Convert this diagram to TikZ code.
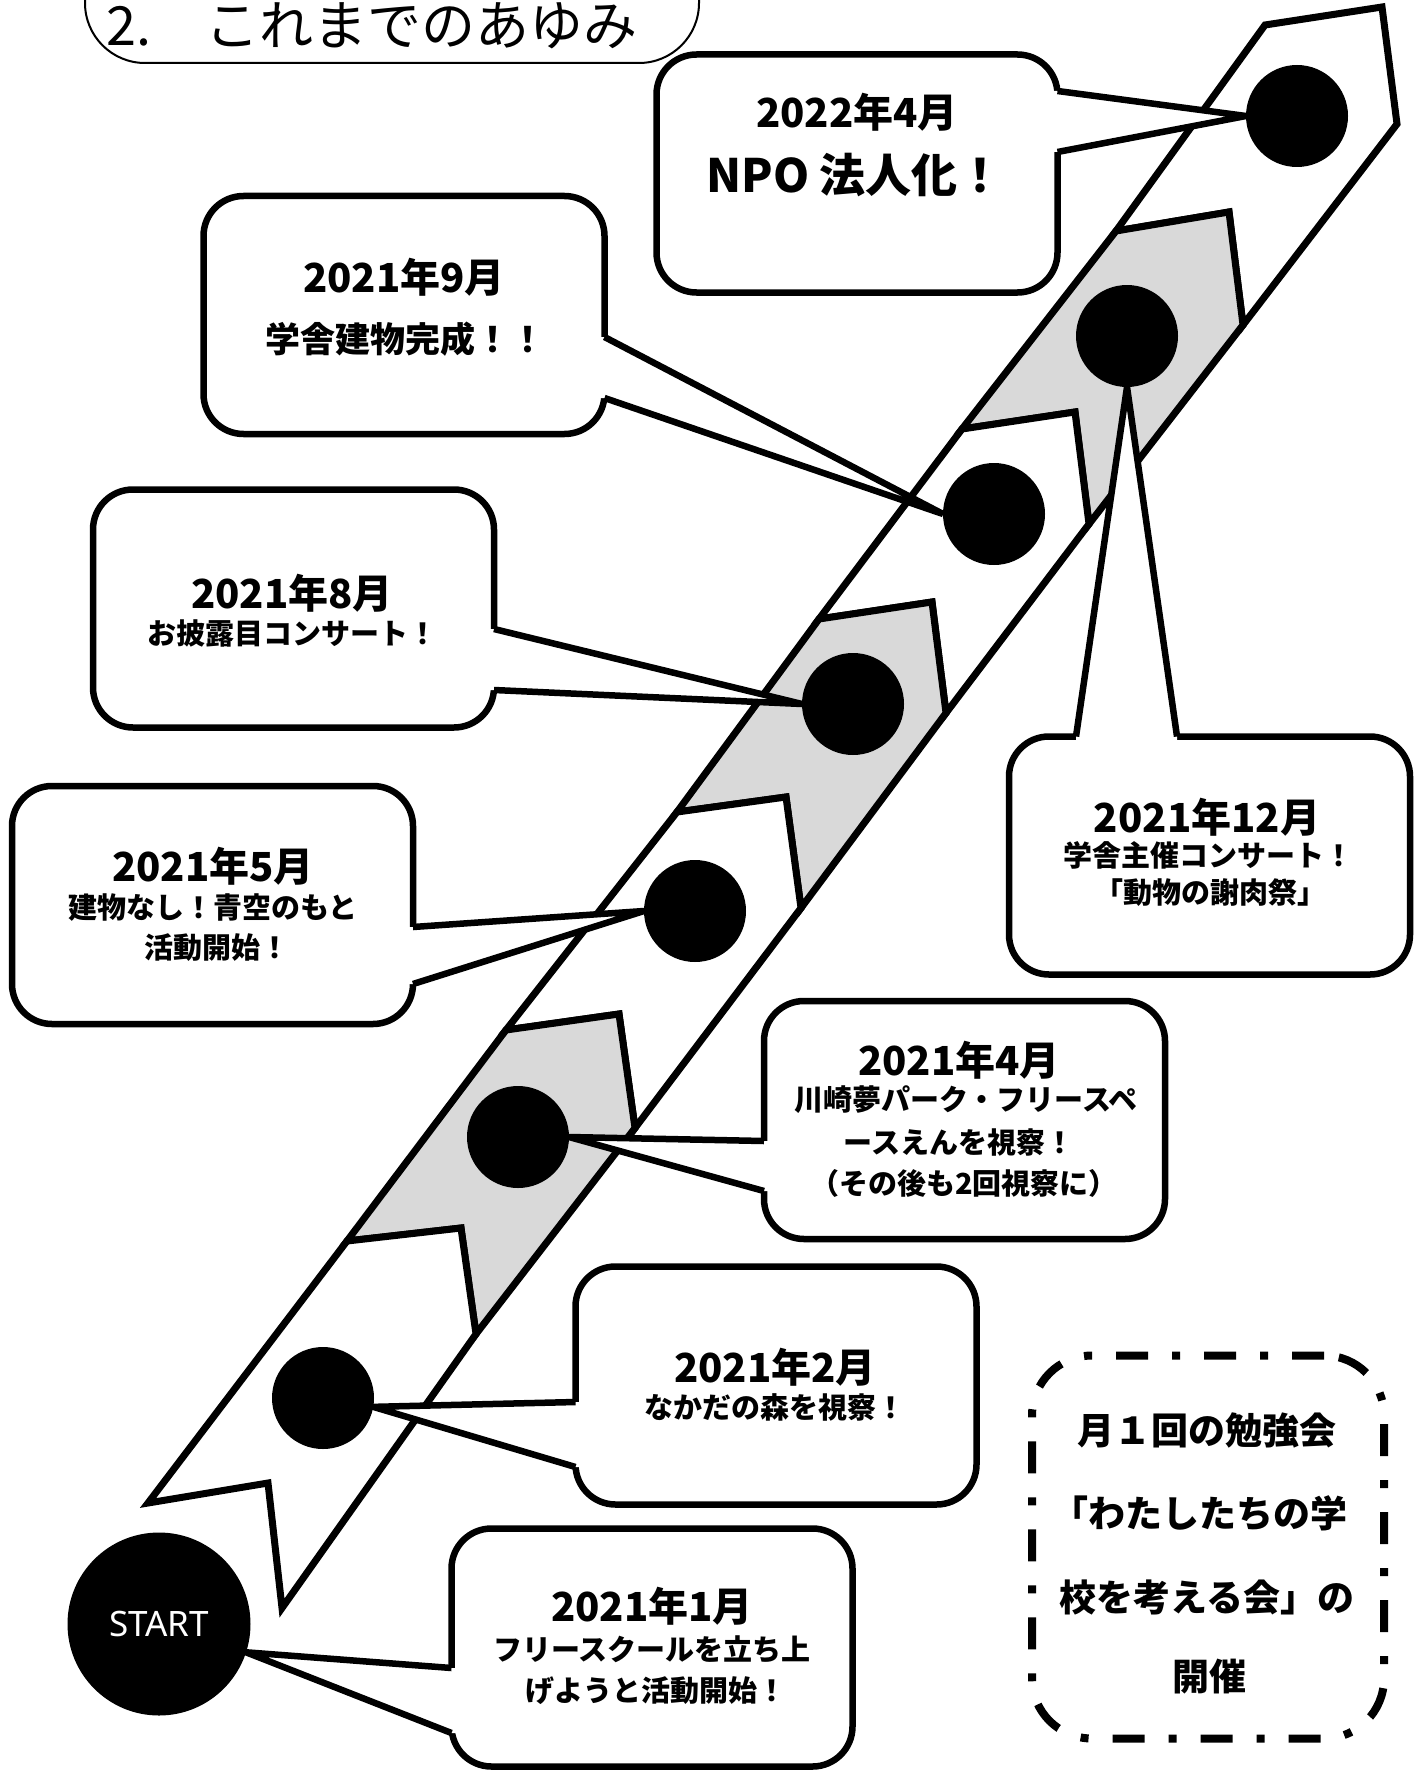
\documentclass[tikz,border=0pt]{standalone}
\usepackage{fontspec}
\setmainfont{Noto Sans CJK JP}
\newfontfamily\popfont{Noto Sans CJK JP}[UprightFont={* Black}]
\newfontfamily\startfont{Noto Sans}
\usetikzlibrary{calc}
\definecolor{bandgray}{RGB}{217,217,217}
\pgfdeclarelayer{bandlayer}
\pgfdeclarelayer{calloutlayer}
\pgfsetlayers{bandlayer,calloutlayer,main}
\begin{document}
\begin{tikzpicture}[x=1pt,y=-1pt,
  segwhite/.style={fill=white,draw=black,line width=7pt,line join=miter},
  seggray/.style={fill=bandgray,draw=black,line width=7pt,line join=miter},
  eventdot/.style={circle,fill=black,minimum size=102pt,inner sep=0pt,outer sep=0pt},
  callbox/.style={draw=black,fill=white,line width=6.5pt,rounded corners=40pt,minimum width=401pt,minimum height=238pt,inner sep=0pt,outer sep=0pt},
  tailfill/.style={fill=white},
  tailline/.style={draw=black,line width=6.5pt,line join=miter},
  datetext/.style={inner sep=0pt,font=\popfont\fontsize{40}{40}\selectfont},
  bodytext/.style={inner sep=0pt,font=\popfont\fontsize{29}{29}\selectfont},
  studytext/.style={inner sep=0pt,font=\popfont\fontsize{37}{37}\selectfont},
]
\useasboundingbox (0,0) rectangle (1423,1771);

% ---------- event dots (main layer, on top) ----------
\node[eventdot] (c1) at (1297,116) {};
\node[eventdot] (c2) at (1127,336) {};
\node[eventdot] (c3) at (994,514) {};
\node[eventdot] (c4) at (853,704) {};
\node[eventdot] (c5) at (695,911) {};
\node[eventdot] (c6) at (518,1137) {};
\node[eventdot] (c7) at (323,1398) {};
\node[circle,fill=black,minimum size=183pt,inner sep=0pt,outer sep=0pt,text=white,
      font=\startfont\fontsize{35}{35}\selectfont] (start) at (159,1624) {START};

% ---------- band ----------
\begin{pgfonlayer}{bandlayer}
\fill[white] (0,0) rectangle (1423,1771);
\coordinate (L1) at (1265,25);  \coordinate (P1) at (1382,7);    \coordinate (R1) at (1397,124);
\coordinate (L2) at (1116,231); \coordinate (P2) at (1229,212);  \coordinate (R2) at (1243,325);
\coordinate (L3) at (962,429);  \coordinate (P3) at (1075,412);  \coordinate (R3) at (1089,524);
\coordinate (L4) at (819,619);  \coordinate (P4) at (932,602);   \coordinate (R4) at (946,713);
\coordinate (L5) at (677,812);  \coordinate (P5) at (786,797);   \coordinate (R5) at (801,908);
\coordinate (L6) at (506,1030); \coordinate (P6) at (619,1014);  \coordinate (R6) at (635,1128);
\coordinate (L7) at (347,1241); \coordinate (P7) at (461,1228);  \coordinate (R7) at (476,1334);
\coordinate (L8) at (148,1503); \coordinate (P8) at (268,1483);  \coordinate (R8) at (282,1608);
\path[segwhite] (L1)--(P1)--(R1)--(R2)--(P2)--(L2)--cycle;
\path[seggray]  (L2)--(P2)--(R2)--(R3)--(P3)--(L3)--cycle;
\path[segwhite] (L3)--(P3)--(R3)--(R4)--(P4)--(L4)--cycle;
\path[seggray]  (L4)--(P4)--(R4)--(R5)--(P5)--(L5)--cycle;
\path[segwhite] (L5)--(P5)--(R5)--(R6)--(P6)--(L6)--cycle;
\path[seggray]  (L6)--(P6)--(R6)--(R7)--(P7)--(L7)--cycle;
\path[segwhite] (L7)--(P7)--(R7)--(R8)--(P8)--(L8)--cycle;
\end{pgfonlayer}

% ---------- callouts ----------
\begin{pgfonlayer}{calloutlayer}
% A 2022-4
\node[callbox] (bA) at (857,173.5) {};
\coordinate (a1) at (bA.east |- 0,91);
\coordinate (a2) at (bA.east |- 0,152);
\fill[tailfill] ($(a1)+(-9,0)$) -- (a1) -- (c1.west) -- (a2) -- ($(a2)+(-9,0)$) -- cycle;
\draw[tailline] (a1) -- (c1.west) -- (a2);
% B 2021-9
\node[callbox] (bB) at (404,315) {};
\coordinate (b1) at (bB.east |- 0,337);
\coordinate (b2) at (bB.east |- 0,398);
\fill[tailfill] ($(b1)+(-9,0)$) -- (b1) -- (c3.west) -- (b2) -- ($(b2)+(-9,0)$) -- cycle;
\draw[tailline] (b1) -- (c3.west) -- (b2);
% C 2021-8
\node[callbox] (bC) at (293.5,608.5) {};
\coordinate (d1) at (bC.east |- 0,629);
\coordinate (d2) at (bC.east |- 0,690);
\fill[tailfill] ($(d1)+(-9,0)$) -- (d1) -- (c4.west) -- (d2) -- ($(d2)+(-9,0)$) -- cycle;
\draw[tailline] (d1) -- (c4.west) -- (d2);
% D 2021-5
\node[callbox] (bD) at (212.5,905) {};
\coordinate (e1) at (bD.east |- 0,927);
\coordinate (e2) at (bD.east |- 0,984);
\fill[tailfill] ($(e1)+(-9,0)$) -- (e1) -- (c5.west) -- (e2) -- ($(e2)+(-9,0)$) -- cycle;
\draw[tailline] (e1) -- (c5.west) -- (e2);
% E 2021-12
\node[callbox] (bE) at (1209.5,855.5) {};
\coordinate (f1) at (1076,0 |- bE.north);
\coordinate (f2) at (1177,0 |- bE.north);
\fill[tailfill] ($(f1)+(0,9)$) -- (f1) -- (c2.south) -- (f2) -- ($(f2)+(0,9)$) -- cycle;
\draw[tailline] (f1) -- (c2.south) -- (f2);
% F 2021-4
\node[callbox] (bF) at (964.5,1120) {};
\coordinate (g1) at (bF.west |- 0,1141);
\coordinate (g2) at (bF.west |- 0,1191);
\fill[tailfill] ($(g1)+(9,0)$) -- (g1) -- (c6.east) -- (g2) -- ($(g2)+(9,0)$) -- cycle;
\draw[tailline] (g1) -- (c6.east) -- (g2);
% G 2021-2
\node[callbox] (bG) at (776,1385.5) {};
\coordinate (h1) at (bG.west |- 0,1402);
\coordinate (h2) at (bG.west |- 0,1467);
\fill[tailfill] ($(h1)+(9,0)$) -- (h1) -- (c7.-10) -- (h2) -- ($(h2)+(9,0)$) -- cycle;
\draw[tailline] (h1) -- (c7.-10) -- (h2);
% H 2021-1
\node[callbox] (bH) at (652,1647.5) {};
\coordinate (k1) at (bH.west |- 0,1668);
\coordinate (k2) at (bH.west |- 0,1733);
\fill[tailfill] ($(k1)+(9,0)$) -- (k1) -- (start.-18) -- (k2) -- ($(k2)+(9,0)$) -- cycle;
\draw[tailline] (k1) -- (start.-18) -- (k2);
\end{pgfonlayer}

% ---------- texts ----------
\node[datetext] (tA1) at (857,112) {2022年4月};
\node[inner sep=0pt,font=\popfont\fontsize{46}{46}\selectfont] (tA2) at (855,175) {NPO 法人化！};
\node[datetext] (tB1) at (404,277) {2021年9月};
\node[inner sep=0pt,font=\popfont\fontsize{35}{35}\selectfont] (tB2) at (405,339) {学舎建物完成！！};
\node[datetext] (tC1) at (292,593) {2021年8月};
\node[bodytext] (tC2) at (292,633) {お披露目コンサート！};
\node[datetext] (tD1) at (213,866) {2021年5月};
\node[bodytext] (tD2) at (213,908) {建物なし！青空のもと};
\node[bodytext] (tD3) at (217,948) {活動開始！};
\node[datetext] (tE1) at (1207,817) {2021年12月};
\node[bodytext] (tE2) at (1208,855) {学舎主催コンサート！};
\node[bodytext] (tE3) at (1210,893) {「動物の謝肉祭」};
\node[datetext] (tF1) at (959,1060) {2021年4月};
\node[bodytext] (tF2) at (966,1100) {川崎夢パーク・フリースペ};
\node[bodytext] (tF3) at (959,1142) {ースえんを視察！};
\node[bodytext] (tF4) at (964,1183) {（その後も2回視察に）};
\node[datetext] (tG1) at (775,1367) {2021年2月};
\node[bodytext] (tG2) at (775,1407) {なかだの森を視察！};
\node[datetext] (tH1) at (652,1606) {2021年1月};
\node[bodytext] (tH2) at (652,1649) {フリースクールを立ち上};
\node[bodytext] (tH3) at (656,1691) {げようと活動開始！};

% ---------- study-group box ----------
\node[draw=black,line width=8pt,dash pattern=on 32pt off 24pt on 8pt off 24pt,
      rounded corners=60pt,minimum width=352pt,minimum height=383pt,inner sep=0pt] (study) at (1208,1547) {};
\node[studytext] (s1) at (1207,1430) {月１回の勉強会};
\node[studytext] (s2) at (1199,1513) {「わたしたちの学};
\node[studytext] (s3) at (1207,1597) {校を考える会」の};
\node[studytext] (s4) at (1209,1677) {開催};

% ---------- title ----------
\node[draw=black,line width=2pt,rounded corners=60pt,minimum width=614pt,minimum height=200pt,inner sep=0pt] (titlebox) at (392,-37) {};
\node[anchor=base west,inner sep=0pt,font=\fontsize{54}{54}\selectfont] (title) at (106,46) {2.\hspace{54pt}これまでのあゆみ};
\end{tikzpicture}
\end{document}
